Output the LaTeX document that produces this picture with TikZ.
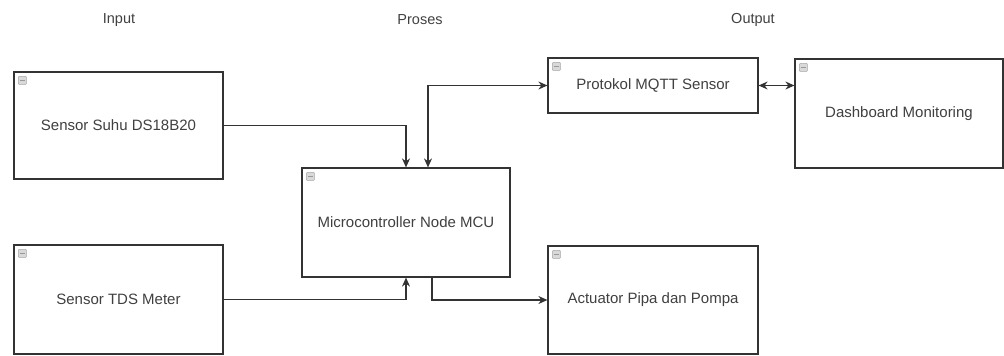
\documentclass[tikz,border=0pt]{standalone}
\usepackage{fontspec}
\setmainfont{Liberation Sans}
\usetikzlibrary{arrows.meta}
\definecolor{ink}{HTML}{333333}
\definecolor{txt}{HTML}{404040}
\tikzset{
  block/.style={draw=ink, line width=1.2pt, fill=white, rectangle, inner sep=0pt,
    text=txt, font=\fontsize{15}{18}\selectfont},
  title/.style={text=txt, font=\fontsize{14.5}{17}\selectfont},
  link/.style={draw=ink, line width=1.1pt, -{Stealth[length=9pt,width=8pt]}},
  twoway/.style={draw=ink, line width=1.1pt, {Stealth[length=9pt,width=8pt]}-{Stealth[length=9pt,width=8pt]}},
  badge/.style={draw=gray!70, fill=gray!30, line width=0.5pt, minimum size=8pt, inner sep=0pt, rectangle, rounded corners=0.8pt}
}
\newcommand{\badgeon}[1]{%
  \node[badge] (#1-badge) at ([shift={(9,9)}]#1.north west) {};
  \draw[gray!80, line width=0.5pt] ([xshift=-2.5pt]#1-badge.center) -- ([xshift=2.5pt]#1-badge.center);
}
\begin{document}
\begin{tikzpicture}[x=1pt, y=-1pt]
  \useasboundingbox (0,0) rectangle (1004,356);

  % column headings
  \node[title] (hin)  at (119,20) {Input};
  \node[title] (hpro) at (420,20) {Proses};
  \node[title] (hout) at (753,20) {Output};

  % blocks
  \node[block, minimum width=209pt, minimum height=107pt] (suhu) at (118.5,125.5) {Sensor Suhu DS18B20};
  \node[block, minimum width=209pt, minimum height=109pt] (tds)  at (118.5,299.5) {Sensor TDS Meter};
  \node[block, minimum width=208pt, minimum height=109pt] (mcu)  at (406,222.5) {Microcontroller Node MCU};
  \node[block, minimum width=210pt, minimum height=55pt]  (mqtt) at (653,85.5) {Protokol MQTT Sensor};
  \node[block, minimum width=208pt, minimum height=109pt] (dash) at (899,113.5) {Dashboard Monitoring};
  \node[block, minimum width=210pt, minimum height=108pt] (act)  at (653,300) {Actuator Pipa dan Pompa};

  \badgeon{suhu}
  \badgeon{tds}
  \badgeon{mcu}
  \badgeon{mqtt}
  \badgeon{dash}
  \badgeon{act}

  % connectors
  \draw[link] (suhu.east) -| (mcu.north);
  \draw[link] (tds.east) -| (mcu.south);
  \draw[twoway] ([xshift=22pt]mcu.north) |- (mqtt.west);
  \draw[twoway] (mqtt.east) -- (mqtt.east -| dash.west);
  \draw[link] ([xshift=26pt]mcu.south) |- (act.west);
\end{tikzpicture}
\end{document}
